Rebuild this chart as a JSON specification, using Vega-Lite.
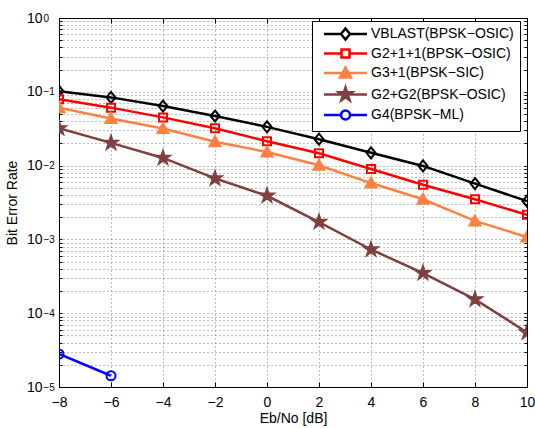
{
  "$schema": "https://vega.github.io/schema/vega-lite/v6.json",
  "width": 468,
  "height": 369,
  "autosize": "none",
  "padding": {"left": 59, "top": 18, "right": 8, "bottom": 41},
  "background": "white",
  "config": {
    "font": "Liberation Sans",
    "view": {"stroke": "black", "strokeWidth": 1},
    "axis": {
      "labelColor": "black",
      "titleColor": "black",
      "labelFontSize": 14,
      "titleFontSize": 14,
      "titleFontWeight": "normal",
      "domainColor": "black",
      "tickColor": "black",
      "gridColor": "#444444",
      "gridDash": [1, 3],
      "gridOpacity": 0.7,
      "gridWidth": 1,
      "labelFlush": false
    }
  },
  "data": {
    "values": [
      {"snr": -8, "ber": 0.102, "series": "VBLAST(BPSK−OSIC)"},
      {"snr": -6, "ber": 0.084, "series": "VBLAST(BPSK−OSIC)"},
      {"snr": -4, "ber": 0.064, "series": "VBLAST(BPSK−OSIC)"},
      {"snr": -2, "ber": 0.047, "series": "VBLAST(BPSK−OSIC)"},
      {"snr": 0, "ber": 0.0335, "series": "VBLAST(BPSK−OSIC)"},
      {"snr": 2, "ber": 0.0228, "series": "VBLAST(BPSK−OSIC)"},
      {"snr": 4, "ber": 0.0149, "series": "VBLAST(BPSK−OSIC)"},
      {"snr": 6, "ber": 0.0099, "series": "VBLAST(BPSK−OSIC)"},
      {"snr": 8, "ber": 0.0057, "series": "VBLAST(BPSK−OSIC)"},
      {"snr": 10, "ber": 0.0033, "series": "VBLAST(BPSK−OSIC)"},
      {"snr": -8, "ber": 0.079, "series": "G2+1+1(BPSK−OSIC)"},
      {"snr": -6, "ber": 0.061, "series": "G2+1+1(BPSK−OSIC)"},
      {"snr": -4, "ber": 0.045, "series": "G2+1+1(BPSK−OSIC)"},
      {"snr": -2, "ber": 0.032, "series": "G2+1+1(BPSK−OSIC)"},
      {"snr": 0, "ber": 0.0214, "series": "G2+1+1(BPSK−OSIC)"},
      {"snr": 2, "ber": 0.0147, "series": "G2+1+1(BPSK−OSIC)"},
      {"snr": 4, "ber": 0.009, "series": "G2+1+1(BPSK−OSIC)"},
      {"snr": 6, "ber": 0.0055, "series": "G2+1+1(BPSK−OSIC)"},
      {"snr": 8, "ber": 0.0035, "series": "G2+1+1(BPSK−OSIC)"},
      {"snr": 10, "ber": 0.00215, "series": "G2+1+1(BPSK−OSIC)"},
      {"snr": -8, "ber": 0.061, "series": "G3+1(BPSK−SIC)"},
      {"snr": -6, "ber": 0.0435, "series": "G3+1(BPSK−SIC)"},
      {"snr": -4, "ber": 0.0318, "series": "G3+1(BPSK−SIC)"},
      {"snr": -2, "ber": 0.021, "series": "G3+1(BPSK−SIC)"},
      {"snr": 0, "ber": 0.0153, "series": "G3+1(BPSK−SIC)"},
      {"snr": 2, "ber": 0.0101, "series": "G3+1(BPSK−SIC)"},
      {"snr": 4, "ber": 0.0058, "series": "G3+1(BPSK−SIC)"},
      {"snr": 6, "ber": 0.0035, "series": "G3+1(BPSK−SIC)"},
      {"snr": 8, "ber": 0.00178, "series": "G3+1(BPSK−SIC)"},
      {"snr": 10, "ber": 0.00108, "series": "G3+1(BPSK−SIC)"},
      {"snr": -8, "ber": 0.032, "series": "G2+G2(BPSK−OSIC)"},
      {"snr": -6, "ber": 0.0203, "series": "G2+G2(BPSK−OSIC)"},
      {"snr": -4, "ber": 0.0127, "series": "G2+G2(BPSK−OSIC)"},
      {"snr": -2, "ber": 0.0067, "series": "G2+G2(BPSK−OSIC)"},
      {"snr": 0, "ber": 0.0039, "series": "G2+G2(BPSK−OSIC)"},
      {"snr": 2, "ber": 0.00172, "series": "G2+G2(BPSK−OSIC)"},
      {"snr": 4, "ber": 0.00073, "series": "G2+G2(BPSK−OSIC)"},
      {"snr": 6, "ber": 0.00035, "series": "G2+G2(BPSK−OSIC)"},
      {"snr": 8, "ber": 0.000154, "series": "G2+G2(BPSK−OSIC)"},
      {"snr": 10, "ber": 0.000055, "series": "G2+G2(BPSK−OSIC)"},
      {"snr": -8, "ber": 0.000028, "series": "G4(BPSK−ML)"},
      {"snr": -6, "ber": 0.0000142, "series": "G4(BPSK−ML)"}
    ]
  },
  "resolve": {"axis": {"x": "independent", "y": "independent"}},
  "layer": [
    {
      "mark": {"type": "line", "strokeWidth": 2.5, "clip": true},
      "encoding": {
        "x": {
          "field": "snr", "type": "quantitative",
          "scale": {"domain": [-8, 10], "nice": false, "zero": false},
          "axis": {
            "orient": "bottom",
            "title": "Eb/No [dB]",
            "values": [-8, -6, -4, -2, 0, 2, 4, 6, 8, 10],
            "grid": true,
            "tickSize": -5,
            "labelPadding": 13,
            "titlePadding": 2,
            "labelFlush": false
          }
        },
        "y": {
          "field": "ber", "type": "quantitative",
          "scale": {"type": "log", "domain": [0.00001, 1], "nice": false},
          "axis": {
            "orient": "left",
            "title": "Bit Error Rate",
            "values": [0.00001, 0.00002, 0.00003, 0.00004, 0.00005, 0.00006, 0.00007, 0.00008, 0.00009,
                       0.0001, 0.0002, 0.0003, 0.0004, 0.0005, 0.0006, 0.0007, 0.0008, 0.0009,
                       0.001, 0.002, 0.003, 0.004, 0.005, 0.006, 0.007, 0.008, 0.009,
                       0.01, 0.02, 0.03, 0.04, 0.05, 0.06, 0.07, 0.08, 0.09,
                       0.1, 0.2, 0.3, 0.4, 0.5, 0.6, 0.7, 0.8, 0.9, 1],
            "labelExpr": "abs(log(datum.value)/LN10 - round(log(datum.value)/LN10)) < 0.000001 ? '10' : ''",
            "grid": true,
            "tickSize": -3,
            "labelPadding": 20,
            "titlePadding": 7,
            "labelBaseline": "middle",
            "labelFlush": false
          }
        },
        "color": {
          "field": "series", "type": "nominal",
          "scale": {
            "domain": ["VBLAST(BPSK−OSIC)", "G2+1+1(BPSK−OSIC)", "G3+1(BPSK−SIC)", "G2+G2(BPSK−OSIC)", "G4(BPSK−ML)"],
            "range": ["#000000", "#FF0000", "#FF8040", "#804040", "#0000FF"]
          },
          "legend": {
            "title": null,
            "orient": "none",
            "legendX": 253,
            "legendY": 3,
            "fillColor": "white",
            "strokeColor": "black",
            "padding": 6,
            "symbolOffset": 4,
            "labelOffset": 35,
            "labelFontSize": 14,
            "labelColor": "black",
            "rowPadding": -0.5,
            "symbolSize": 100,
            "encode": {
              "symbols": {
                "update": {
                  "shape": {"signal": "['M-1,0L2.4,0M4.2,0L7.6,0M3.3,-1.1L4.2,0L3.3,1.1L2.4,0Z','M-1,0L2.5,0M4.1,0L7.6,0M2.5,-0.8L4.1,-0.8L4.1,0.8L2.5,0.8Z','M-1,0L7.6,0M3.3,-1.1L4.4,0.9L2.2,0.9Z','M-1,0L7.6,0M3.3,-1.4L3.614,-0.433L4.631,-0.433L3.809,0.165L4.123,1.133L3.3,0.535L2.477,1.133L2.791,0.165L1.969,-0.433L2.986,-0.433Z','M-1,0L2.4,0M4.2,0L7.6,0M2.4,0A0.9,0.9,0,1,0,4.2,0A0.9,0.9,0,1,0,2.4,0Z'][indexof(['VBLAST(BPSK−OSIC)','G2+1+1(BPSK−OSIC)','G3+1(BPSK−SIC)','G2+G2(BPSK−OSIC)','G4(BPSK−ML)'], datum.value)]"},
                  "fill": {"signal": "indexof(['G3+1(BPSK−SIC)','G2+G2(BPSK−OSIC)'], datum.value) >= 0 ? scale('color', datum.value) : 'white'"},
                  "stroke": {"signal": "scale('color', datum.value)"},
                  "strokeWidth": {"value": 2.5},
                  "size": {"value": 100},
                  "opacity": {"value": 1}
                }
              }
            }
          }
        },
        "detail": {"field": "series"}
      }
    },
    {
      "mark": {"type": "point", "filled": false, "strokeWidth": 2, "size": 100, "opacity": 1, "clip": true},
      "encoding": {
        "x": {"field": "snr", "type": "quantitative", "axis": null},
        "y": {"field": "ber", "type": "quantitative", "axis": null},
        "color": {"field": "series", "type": "nominal"},
        "fill": {
          "field": "series", "type": "nominal",
          "scale": {
            "domain": ["G4(BPSK−ML)", "G2+G2(BPSK−OSIC)", "G3+1(BPSK−SIC)", "G2+1+1(BPSK−OSIC)", "VBLAST(BPSK−OSIC)"],
            "range": ["transparent", "#804040", "#FF8040", "transparent", "transparent"]
          },
          "legend": null
        },
        "shape": {
          "field": "series", "type": "nominal",
          "scale": {
            "domain": ["G4(BPSK−ML)", "G2+G2(BPSK−OSIC)", "G3+1(BPSK−SIC)", "G2+1+1(BPSK−OSIC)", "VBLAST(BPSK−OSIC)"],
            "range": [
              "M-0.9,0A0.9,0.9,0,1,0,0.9,0A0.9,0.9,0,1,0,-0.9,0Z",
              "M0,-1.4L0.314,-0.433L1.331,-0.433L0.509,0.165L0.823,1.133L0,0.535L-0.823,1.133L-0.509,0.165L-1.331,-0.433L-0.314,-0.433Z",
              "M0,-1.1L1.1,0.9L-1.1,0.9Z",
              "M-0.8,-0.8L0.8,-0.8L0.8,0.8L-0.8,0.8Z",
              "M0,-1.1L0.9,0L0,1.1L-0.9,0Z"
            ]
          },
          "legend": null
        }
      }
    },
    {
      "mark": {"type": "line", "strokeOpacity": 0},
      "encoding": {
        "x": {
          "field": "snr", "type": "quantitative",
          "axis": {"orient": "top", "title": null, "labels": false, "grid": false, "tickSize": -5,
                   "values": [-8, -6, -4, -2, 0, 2, 4, 6, 8, 10]}
        },
        "y": {
          "field": "ber", "type": "quantitative",
          "axis": {"orient": "right", "title": null, "labels": false, "grid": false, "tickSize": -3,
                   "values": [0.00001, 0.00002, 0.00003, 0.00004, 0.00005, 0.00006, 0.00007, 0.00008, 0.00009,
                       0.0001, 0.0002, 0.0003, 0.0004, 0.0005, 0.0006, 0.0007, 0.0008, 0.0009,
                       0.001, 0.002, 0.003, 0.004, 0.005, 0.006, 0.007, 0.008, 0.009,
                       0.01, 0.02, 0.03, 0.04, 0.05, 0.06, 0.07, 0.08, 0.09,
                       0.1, 0.2, 0.3, 0.4, 0.5, 0.6, 0.7, 0.8, 0.9, 1]}
        },
        "detail": {"field": "series"}
      }
    },
    {
      "mark": {"type": "line", "strokeOpacity": 0},
      "encoding": {
        "x": {"field": "snr", "type": "quantitative", "axis": null},
        "y": {
          "field": "ber", "type": "quantitative",
          "axis": {
            "orient": "left", "title": null, "grid": false, "ticks": false, "domain": false,
            "values": [0.00001, 0.0001, 0.001, 0.01, 0.1, 1],
            "labelExpr": "['0','−1','−2','−3','−4','−5'][round(-log(datum.value)/LN10)]",
            "labelAlign": "left",
            "labelPadding": 16,
            "labelFontSize": 10,
            "labelDy": -6,
            "labelBaseline": "middle",
            "labelFlush": false
          }
        },
        "detail": {"field": "series"}
      }
    }
  ]
}
